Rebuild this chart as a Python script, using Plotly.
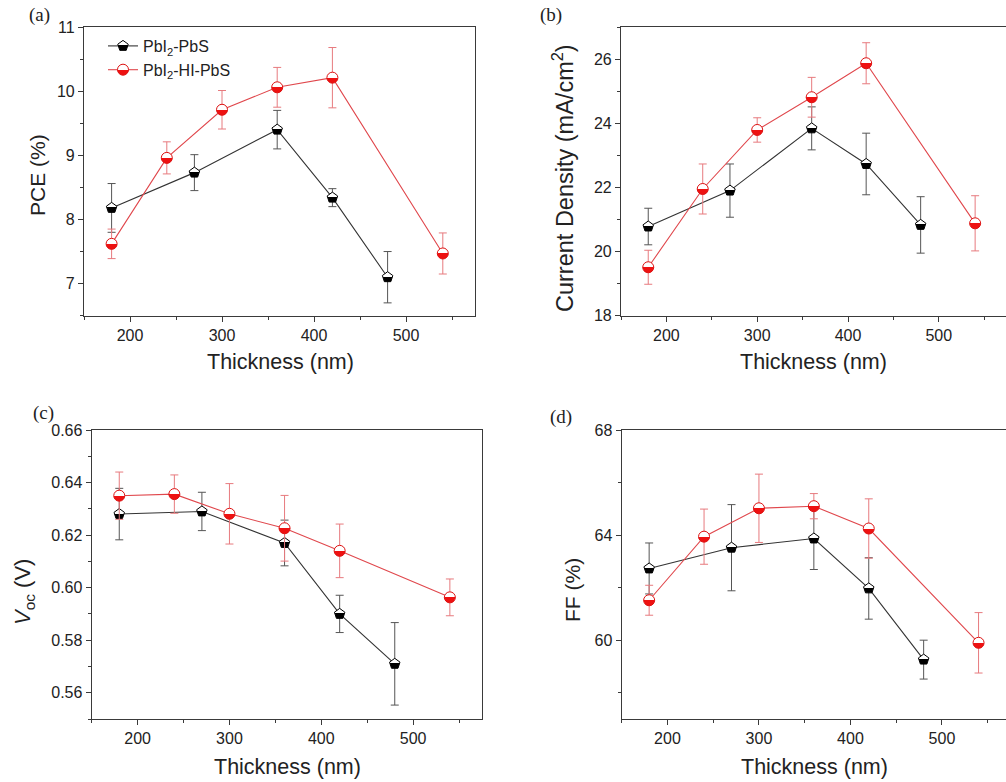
import plotly.graph_objects as go

# ---------------- data ----------------
thick_black = [180, 270, 360, 420, 480]
thick_red = [180, 240, 300, 360, 420, 540]

pce_black = [8.18, 8.73, 9.40, 8.34, 7.10]
pce_black_err = [0.38, 0.28, 0.30, 0.14, 0.40]
pce_red = [7.62, 8.96, 9.71, 10.06, 10.21, 7.47]
pce_red_err = [0.23, 0.25, 0.30, 0.31, 0.47, 0.32]

jsc_black = [20.78, 21.90, 23.84, 22.73, 20.83]
jsc_black_err = [0.57, 0.83, 0.67, 0.96, 0.88]
jsc_red = [19.51, 21.95, 23.79, 24.81, 25.87, 20.88]
jsc_red_err = [0.53, 0.78, 0.38, 0.62, 0.64, 0.86]

voc_black = [0.628, 0.629, 0.617, 0.590, 0.571]
voc_black_err = [0.0098, 0.0073, 0.0087, 0.0071, 0.0157]
voc_red = [0.635, 0.6356, 0.6281, 0.6226, 0.6140, 0.5963]
voc_red_err = [0.009, 0.0073, 0.0115, 0.0125, 0.0102, 0.007]

ff_black = [62.73, 63.52, 63.87, 61.97, 59.26]
ff_black_err = [0.97, 1.64, 1.18, 1.17, 0.74]
ff_red = [61.52, 63.94, 65.02, 65.10, 64.25, 59.90]
ff_red_err = [0.57, 1.05, 1.30, 0.48, 1.13, 1.15]

name_black = "PbI<sub>2</sub>-PbS"
name_red = "PbI<sub>2</sub>-HI-PbS"
x_title = "Thickness (nm)"
y_titles = ["PCE (%)", "Current Density (mA/cm<sup>2</sup>)",
            "<i>V</i><sub>oc</sub> (V)", "FF (%)"]
panel_labels = ["(a)", "(b)", "(c)", "(d)"]

W, H = 1006, 782
FONT = "Liberation Sans, Arial, sans-serif"
SERIF = "Liberation Serif, Times New Roman, serif"
AXC = "#3a3a3a"
TXT = "#222222"

fig = go.Figure()


def add_pair(xa, ya, yb, eb, yr, er, legend):
    fig.add_trace(go.Scatter(
        x=thick_black, y=yb, name=name_black, mode="lines+markers",
        xaxis=xa, yaxis=ya, showlegend=legend, legendrank=1,
        line=dict(color="#333333", width=1.1),
        marker=dict(symbol="pentagon", size=11, color="white",
                    gradient=dict(type="vertical", color="black"),
                    line=dict(color="black", width=1)),
        error_y=dict(type="data", array=eb, color="#555555", thickness=1, width=4),
    ))
    fig.add_trace(go.Scatter(
        x=thick_red, y=yr, name=name_red, mode="lines+markers",
        xaxis=xa, yaxis=ya, showlegend=legend, legendrank=2,
        line=dict(color="#e0474c", width=1.1),
        marker=dict(symbol="circle", size=11, color="white",
                    gradient=dict(type="vertical", color="#ee1111"),
                    line=dict(color="#dd1111", width=1)),
        error_y=dict(type="data", array=er, color="#e77a7e", thickness=1, width=4),
    ))


add_pair("x", "y", pce_black, pce_black_err, pce_red, pce_red_err, True)
add_pair("x2", "y2", jsc_black, jsc_black_err, jsc_red, jsc_red_err, False)
add_pair("x3", "y3", voc_black, voc_black_err, voc_red, voc_red_err, False)
add_pair("x4", "y4", ff_black, ff_black_err, ff_red, ff_red_err, False)


def px_x(a, b):
    return [a / W, min(b / W, 1.0)]


def px_y(top, bottom):
    return [1 - bottom / H, 1 - top / H]


def xaxis(dom, anchor, rng, mirror=True):
    return dict(domain=dom, anchor=anchor, range=rng, automargin=False,
                tickvals=[200, 300, 400, 500], ticks="outside", ticklen=5,
                tickcolor=AXC, showline=True, linecolor=AXC, linewidth=1.2,
                mirror=mirror, showgrid=False, zeroline=False,
                minor=dict(dtick=50, tick0=0, ticks="outside", ticklen=3, tickcolor=AXC),
                tickfont=dict(family=FONT, size=16, color=TXT))


def yaxis(dom, anchor, rng, tickvals, minor_dtick, fmt=None, mirror=True):
    d = dict(domain=dom, anchor=anchor, range=rng, tickvals=tickvals, automargin=False,
             ticks="outside", ticklen=5, tickcolor=AXC, showline=True,
             linecolor=AXC, linewidth=1.2, mirror=mirror, showgrid=False,
             zeroline=False,
             minor=dict(dtick=minor_dtick, tick0=0, ticks="outside", ticklen=3, tickcolor=AXC),
             tickfont=dict(family=FONT, size=16, color=TXT))
    if fmt:
        d["tickformat"] = fmt
    return d


top_dom = px_y(27, 315.7)
bot_dom = px_y(430, 719)

fig.update_layout(
    width=W, height=H,
    margin=dict(l=0, r=0, t=0, b=0, autoexpand=False),
    paper_bgcolor="white", plot_bgcolor="white",
    font=dict(family=FONT, color=TXT),
    xaxis=xaxis(px_x(84, 475), "y", [150, 575]),
    yaxis=yaxis(top_dom, "x", [6.5, 11], [7, 8, 9, 10, 11], 0.5),
    xaxis2=xaxis(px_x(621, 1006), "y2", [150, 574]),
    yaxis2=yaxis(top_dom, "x2", [18, 27], [18, 20, 22, 24, 26], 1, mirror=False),
    xaxis3=xaxis(px_x(91.7, 482), "y3", [150, 575]),
    yaxis3=yaxis(bot_dom, "x3", [0.55, 0.66], [0.56, 0.58, 0.60, 0.62, 0.64, 0.66], 0.01,
                 fmt=".2f"),
    xaxis4=xaxis(px_x(621.7, 1006), "y4", [150, 570]),
    yaxis4=yaxis(bot_dom, "x4", [57, 68], [60, 64, 68], 2, mirror=False),
    legend=dict(x=103 / W, y=1 - 29 / H, xanchor="left", yanchor="top",
                bgcolor="rgba(0,0,0,0)", font=dict(family=FONT, size=16, color=TXT),
                tracegroupgap=0, itemwidth=30),
    showlegend=True,
)


def ann(text, cx, cy, size, angle=0, family=FONT):
    fig.add_annotation(text=text, x=cx / W, y=1 - cy / H, xref="paper", yref="paper",
                       showarrow=False, xanchor="center", yanchor="middle",
                       textangle=angle, font=dict(family=family, size=size, color=TXT))


# panel labels
for txt, (cx, cy) in zip(panel_labels, [(39, 15), (551, 15), (43, 413), (561, 417)]):
    ann(txt, cx, cy, 19, family=SERIF)

# x-axis titles
for cx, cy in [(280, 362), (813, 362), (287, 767), (814, 767)]:
    ann(x_title, cx, cy, 21.5)

# y-axis titles
ann(y_titles[0], 37, 175, 21, angle=-90)
ann(y_titles[1], 563, 178, 23.5, angle=-90)
ann(y_titles[2], 24, 592, 22, angle=-90)
ann(y_titles[3], 572, 590, 21, angle=-90)

post = """
document.body.style.margin = '0px';
document.body.style.padding = '0px';
document.querySelectorAll('linearGradient').forEach(function(g){
  var stops = g.querySelectorAll('stop');
  if(stops.length !== 2) return;
  var a = stops[0], b = stops[1];
  var a2 = a.cloneNode(false); a2.setAttribute('offset', '50%');
  var b2 = b.cloneNode(false); b2.setAttribute('offset', '50%');
  g.insertBefore(a2, b); g.insertBefore(b2, b);
});
"""

fig.write_html("out.html", post_script=post, config={"displayModeBar": False})
